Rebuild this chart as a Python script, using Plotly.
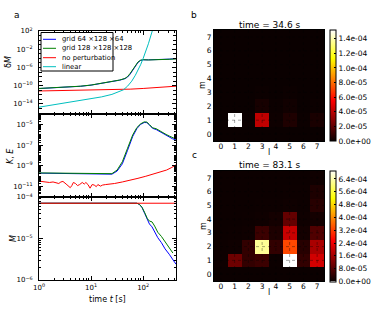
import numpy as np
import plotly.graph_objects as go

# ---------------- data ----------------
series_names = ["grid 64 ×128 ×64", "grid 128 ×128 ×128", "no perturbation", "linear"]
series_colors = ["#0000ff", "#008000", "#ff0000", "#00bfbf"]

# panel a1 : delta M   (log10 values)
dm_logt = [0, 0.4, 0.8, 1.0, 1.2, 1.4, 1.55, 1.65, 1.7, 1.75, 1.8, 1.85, 1.9, 1.95, 2.0, 2.1, 2.2, 2.35, 2.5, 2.63]
dm_blue_log = [-10.62, -10.42, -10.12, -9.87, -9.52, -9.12, -8.78, -8.45, -8.1, -7.45, -6.55, -5.6, -4.9, -4.45, -4.32, -4.33, -4.33, -4.28, -4.17, -4.05]
dm_green_log = [-10.6, -10.4, -10.1, -9.85, -9.5, -9.1, -8.75, -8.4, -8.0, -7.3, -6.4, -5.5, -4.8, -4.4, -4.3, -4.35, -4.35, -4.3, -4.2, -4.12]
dm_red_logt = [0, 0.25, 0.5, 0.75, 1.0, 1.25, 1.5, 1.75, 2.0, 2.3, 2.5, 2.63]
dm_red_log = [-11.15, -11.1, -11.12, -11.05, -11.0, -10.95, -10.85, -10.75, -10.6, -10.4, -10.25, -10.1]
dm_cyan_logt = [0, 0.4, 0.8, 1.0, 1.2, 1.4, 1.5, 1.62, 1.7, 1.78, 1.85, 1.9, 1.95, 2.0, 2.05, 2.1, 2.15, 2.19]
dm_cyan_log = [-14.7, -14.0, -13.3, -12.9, -12.45, -11.9, -11.5, -10.9, -10.1, -9.0, -7.7, -6.6, -5.4, -4.0, -2.5, -0.8, 1.1, 2.6]

# panel a2 : K, E   (log10 values)
ke_logt = [0, 0.5, 1.0, 1.28, 1.4, 1.5, 1.6, 1.7, 1.8, 1.88, 1.95, 2.02, 2.07, 2.12, 2.18, 2.25, 2.31, 2.38, 2.44, 2.5, 2.56, 2.63]
ke_blue_log = [-9.7, -9.74, -9.78, -9.82, -9.8, -9.5, -8.8, -7.5, -6.15, -5.4, -5.0, -4.82, -4.83, -5.05, -5.38, -5.5, -5.68, -5.85, -6.03, -6.2, -6.38, -6.5]
ke_green_log = [-9.68, -9.72, -9.76, -9.8, -9.75, -9.4, -8.6, -7.3, -6.0, -5.3, -4.95, -4.76, -4.78, -5.02, -5.33, -5.42, -5.62, -5.78, -5.97, -6.12, -6.28, -6.42]
ke_red_logt = [0, 0.08, 0.15, 0.2, 0.27, 0.33, 0.38, 0.42, 0.46, 0.52, 0.56, 0.6, 0.63, 0.66, 0.7, 0.74, 0.78,
               0.83, 0.87, 0.9, 0.94, 0.98, 1.02, 1.06, 1.1, 1.13, 1.18, 1.22, 1.28, 1.35, 1.45, 1.6, 1.75,
               1.9, 2.05, 2.2, 2.35, 2.45, 2.55, 2.63]
ke_red_log = [-10.47, -10.5, -10.55, -10.6, -10.55, -10.65, -10.7, -10.55, -10.5, -10.75, -10.9, -11.1, -10.9,
              -10.6, -10.7, -10.9, -10.8, -10.6, -10.75, -10.6, -10.8, -11.15, -10.8, -10.85, -11.0, -10.8,
              -10.95, -10.85, -10.8, -10.78, -10.7, -10.55, -10.4, -10.2, -10.0, -9.8, -9.55, -9.4, -9.15, -8.9]

# panel a3 : M   (log10 values)
m_logt_blue = [0, 1.0, 1.88, 1.93, 1.98, 2.03, 2.08, 2.12, 2.17, 2.22, 2.28, 2.35, 2.42, 2.5, 2.57, 2.63]
m_blue_log = [-4.15, -4.15, -4.15, -4.18, -4.26, -4.4, -4.55, -4.65, -4.72, -4.85, -4.98, -5.1, -5.25, -5.38, -5.5, -5.62]
m_logt_green = [0, 1.0, 1.88, 1.93, 1.98, 2.03, 2.08, 2.12, 2.17, 2.22, 2.28, 2.35, 2.42, 2.5, 2.57]
m_green_log = [-4.15, -4.15, -4.15, -4.18, -4.25, -4.38, -4.52, -4.58, -4.6, -4.7, -4.85, -4.95, -5.08, -5.22, -5.35]
m_logt_red = [0, 1.0, 2.0, 2.63]
m_red_log = [-4.15, -4.15, -4.15, -4.15]

# panels b, c : spectra  (rows m = 0..7, columns l = 0..7)
l_vals = [0, 1, 2, 3, 4, 5, 6, 7]
m_vals = [0, 1, 2, 3, 4, 5, 6, 7]
title_b = "time = 34.6 s"
title_c = "time = 83.1 s"
z_b = [
    [0.0, 0.0, 0.0, 0.0, 0.0, 0.0, 0.0, 0.0],
    [0.0, 15.2e-5, 0.05e-5, 4.1e-5, 0.1e-5, 0.45e-5, 0.05e-5, 0.35e-5],
    [0.0, 0.0, 0.0, 0.3e-5, 0.05e-5, 0.15e-5, 0.0, 0.05e-5],
    [0.0, 0.0, 0.0, 0.05e-5, 0.0, 0.05e-5, 0.0, 0.0],
    [0.0, 0.0, 0.0, 0.0, 0.0, 0.0, 0.0, 0.0],
    [0.0, 0.0, 0.0, 0.0, 0.0, 0.0, 0.0, 0.0],
    [0.0, 0.0, 0.0, 0.0, 0.0, 0.0, 0.0, 0.0],
    [0.0, 0.0, 0.0, 0.0, 0.0, 0.0, 0.0, 0.0],
]
z_c = [
    [0.1e-5, 0.1e-5, 0.1e-5, 0.1e-5, 0.1e-5, 0.1e-5, 0.1e-5, 0.1e-5],
    [0.3e-5, 10.3e-5, 4.1e-5, 5.1e-5, 0.2e-5, 69.3e-5, 4.1e-5, 20.6e-5],
    [0.3e-5, 0.5e-5, 4.1e-5, 62.0e-5, 4.1e-5, 32.6e-5, 3.0e-5, 16.5e-5],
    [0.2e-5, 0.3e-5, 0.5e-5, 5.1e-5, 2.0e-5, 19.6e-5, 1.0e-5, 7.2e-5],
    [0.2e-5, 0.2e-5, 0.3e-5, 0.5e-5, 1.0e-5, 9.3e-5, 0.5e-5, 1.0e-5],
    [0.2e-5, 0.2e-5, 0.2e-5, 0.3e-5, 0.3e-5, 0.5e-5, 0.3e-5, 3.0e-5],
    [0.2e-5, 0.2e-5, 0.2e-5, 0.2e-5, 0.2e-5, 0.3e-5, 0.3e-5, 2.0e-5],
    [0.2e-5, 0.2e-5, 0.2e-5, 0.2e-5, 0.2e-5, 0.2e-5, 0.2e-5, 0.5e-5],
]
cbar_b_ticks = [0, 2e-5, 4e-5, 6e-5, 8e-5, 10e-5, 12e-5, 14e-5]
cbar_c_ticks = [0, 8e-5, 16e-5, 24e-5, 32e-5, 40e-5, 48e-5, 56e-5, 64e-5]

# ---------------- layout helpers ----------------
W, H = 390, 312
FONT = "DejaVu Sans"


def px(x):
    return x / W


def py(y):
    return 1 - y / H


def pw(v):
    return 10 ** np.array(v, dtype=float)


hot = [[0.0, "rgb(10,0,0)"], [0.365079, "rgb(255,0,0)"],
       [0.746032, "rgb(255,255,0)"], [1.0, "rgb(255,255,255)"]]

fig = go.Figure()


def line(xlogt, ylog, color, xa, ya):
    fig.add_trace(go.Scatter(x=pw(xlogt), y=pw(ylog), mode="lines",
                             line=dict(color=color, width=1), xaxis=xa, yaxis=ya,
                             showlegend=False, hoverinfo="skip"))


# panel a1
line(dm_logt, dm_blue_log, series_colors[0], "x", "y")
line(dm_logt, dm_green_log, series_colors[1], "x", "y")
line(dm_red_logt, dm_red_log, series_colors[2], "x", "y")
line(dm_cyan_logt, dm_cyan_log, series_colors[3], "x", "y")
# panel a2
line(ke_logt, ke_blue_log, series_colors[0], "x2", "y2")
line(ke_logt, ke_green_log, series_colors[1], "x2", "y2")
line(ke_red_logt, ke_red_log, series_colors[2], "x2", "y2")
# panel a3
line(m_logt_blue, m_blue_log, series_colors[0], "x3", "y3")
line(m_logt_green, m_green_log, series_colors[1], "x3", "y3")
line(m_logt_red, m_red_log, series_colors[2], "x3", "y3")


def fmt(v):
    return f"{v:.1e}"


for z, xa, ya, yc, ticks in [(z_b, "x4", "y4", (30 + 141) / 2, cbar_b_ticks),
                             (z_c, "x5", "y5", (171 + 281) / 2, cbar_c_ticks)]:
    zmax = float(np.max(z))
    fig.add_trace(go.Heatmap(
        z=z, x=l_vals, y=m_vals, xaxis=xa, yaxis=ya, colorscale=hot, zmin=0, zmax=zmax,
        hoverinfo="skip",
        colorbar=dict(x=px(330), xanchor="left", xpad=0, ypad=0, y=py(yc), yanchor="middle",
                      len=111 / H, lenmode="fraction", thickness=6, thicknessmode="pixels",
                      outlinecolor="black", outlinewidth=1, tickmode="array",
                      tickvals=ticks, ticktext=[fmt(v) for v in ticks],
                      ticks="inside", ticklen=2, tickcolor="black",
                      tickfont=dict(family=FONT, size=7.5, color="black"))))

# ---------------- axes ----------------
XL, XR = px(39), px(176)
TICKFONT = dict(family=FONT, size=7, color="black")
common = dict(showline=True, linecolor="black", linewidth=1, mirror="allticks", ticks="inside",
              tickcolor="black", ticklen=4, showgrid=False, zeroline=False, automargin=False,
              tickfont=TICKFONT)

x_major = [1, 10, 100]
x_minor = [k * 10 ** n for n in range(0, 3) for k in range(2, 10) if k * 10 ** n < 440]


def sup(n):
    return "10<sup>" + str(n).replace("-", "\u2212") + "</sup>"


for i, (xa, ya) in enumerate([("xaxis", "y"), ("xaxis2", "y2"), ("xaxis3", "y3")]):
    fig.layout[xa] = dict(common, type="log", range=[0, 2.63], domain=[XL, XR], anchor=ya,
                          tickmode="array", tickvals=x_major, ticktext=[sup(n) for n in range(3)],
                          showticklabels=(i == 2), ticklabelstandoff=1,
                          minor=dict(tickmode="array", tickvals=x_minor, ticks="inside", ticklen=2,
                                     tickcolor="black"))

top_lab = [2, -2, -6, -10, -14]
fig.layout.yaxis = dict(common, type="log", range=[-16.2, 2], domain=[py(114), py(31)], anchor="x",
                        tickmode="array", tickvals=[10.0 ** n for n in top_lab],
                        ticktext=[sup(n) for n in top_lab], ticklabelstandoff=4,
                        minor=dict(tickmode="array", ticks="inside", ticklen=3, tickcolor="black",
                                   tickvals=[10.0 ** n for n in range(-16, 3) if n not in top_lab]))
mid_lab = [-5, -7, -9, -11]
fig.layout.yaxis2 = dict(common, type="log", range=[-12, -4], domain=[py(197), py(114)], anchor="x2",
                         tickmode="array", tickvals=[10.0 ** n for n in mid_lab],
                         ticktext=[sup(n) for n in mid_lab], ticklabelstandoff=4,
                         minor=dict(tickmode="array", ticks="inside", ticklen=2, tickcolor="black",
                                    tickvals=[k * 10.0 ** n for n in range(-12, -4) for k in range(1, 10)
                                              if not (k == 1 and n in mid_lab)]))
bot_lab = [-6, -5, -4]
fig.layout.yaxis3 = dict(common, type="log", range=[-6, -4], domain=[py(280), py(197)], anchor="x3",
                         tickmode="array", tickvals=[10.0 ** n for n in bot_lab],
                         ticktext=[sup(n) for n in bot_lab], ticklabelstandoff=4,
                         minor=dict(tickmode="array", ticks="inside", ticklen=2, tickcolor="black",
                                    tickvals=[k * 10.0 ** n for n in range(-6, -4) for k in range(2, 10)]))

hm_common = dict(showline=True, linecolor="black", linewidth=1, mirror=True, ticks="",
                 showgrid=False, zeroline=False, range=[-0.5, 7.5], tickmode="array", automargin=False,
                 tickfont=dict(family=FONT, size=7.5, color="black"))
fig.layout.xaxis4 = dict(hm_common, domain=[px(214), px(324)], anchor="y4", tickvals=l_vals, ticklabelstandoff=-2)
fig.layout.yaxis4 = dict(hm_common, domain=[py(141), py(30)], anchor="x4", tickvals=m_vals, ticklabelstandoff=0)
fig.layout.xaxis5 = dict(hm_common, domain=[px(214), px(324)], anchor="y5", tickvals=l_vals, ticklabelstandoff=-2)
fig.layout.yaxis5 = dict(hm_common, domain=[py(281), py(171)], anchor="x5", tickvals=m_vals, ticklabelstandoff=0)

shapes = []
for xr, yr in [("x4", "y4"), ("x5", "y5")]:
    for v in l_vals:
        shapes.append(dict(type="line", xref=xr, yref=yr, x0=v, x1=v, y0=-0.5, y1=7.5, layer="above",
                           line=dict(color="rgba(0,0,0,0.35)", width=1, dash="dot")))
    for v in m_vals:
        shapes.append(dict(type="line", xref=xr, yref=yr, y0=v, y1=v, x0=-0.5, x1=7.5, layer="above",
                           line=dict(color="rgba(0,0,0,0.35)", width=1, dash="dot")))

# legend box in panel a1
shapes.append(dict(type="rect", xref="paper", yref="paper", x0=px(41), x1=px(113), y0=py(71), y1=py(32.5),
                   line=dict(color="black", width=1), fillcolor="white", layer="above"))
ann = []
rows_y = [39.3, 48.3, 57.7, 66.7]
for name, col, ry in zip(series_names, series_colors, rows_y):
    shapes.append(dict(type="line", xref="paper", yref="paper", x0=px(43), x1=px(56), y0=py(ry), y1=py(ry),
                       line=dict(color=col, width=1), layer="above"))
    ann.append(dict(text=name, xref="paper", yref="paper", x=px(60), y=py(ry), xanchor="left",
                    yanchor="middle", showarrow=False, font=dict(family=FONT, size=6.8, color="black")))

fig.layout.shapes = shapes


def text(t, x, y, size=8, angle=0, xanchor="center"):
    ann.append(dict(text=t, xref="paper", yref="paper", x=px(x), y=py(y), xanchor=xanchor,
                    yanchor="middle", showarrow=False, textangle=angle,
                    font=dict(family=FONT, size=size, color="black")))


text("a", 17, 15, 9)
text("b", 194, 15, 9)
text("c", 194, 155, 9)
text("δ<i>M</i>", 9, 62, 8, -90)
text("<i>K</i>, <i>E</i>", 10, 156, 8, -90)
text("<i>M</i>", 13, 239, 8, -90)
text("time <i>t</i> [s]", 107, 299, 8)
text(title_b, 269, 25, 9)
text(title_c, 269, 165, 9)
text("l", 269, 152, 8)
text("m", 203, 85, 8, -90)
text("l", 269, 292, 8)
text("m", 203, 226, 8, -90)
fig.layout.annotations = ann

fig.update_layout(width=W, height=H, margin=dict(l=0, r=0, t=0, b=0, autoexpand=False),
                  paper_bgcolor="white", plot_bgcolor="white", showlegend=False,
                  font=dict(family=FONT, color="black"))

fig.write_html("out.html", config={"displayModeBar": False},
               post_script="document.body.style.margin='0px';document.body.style.padding='0px';")
